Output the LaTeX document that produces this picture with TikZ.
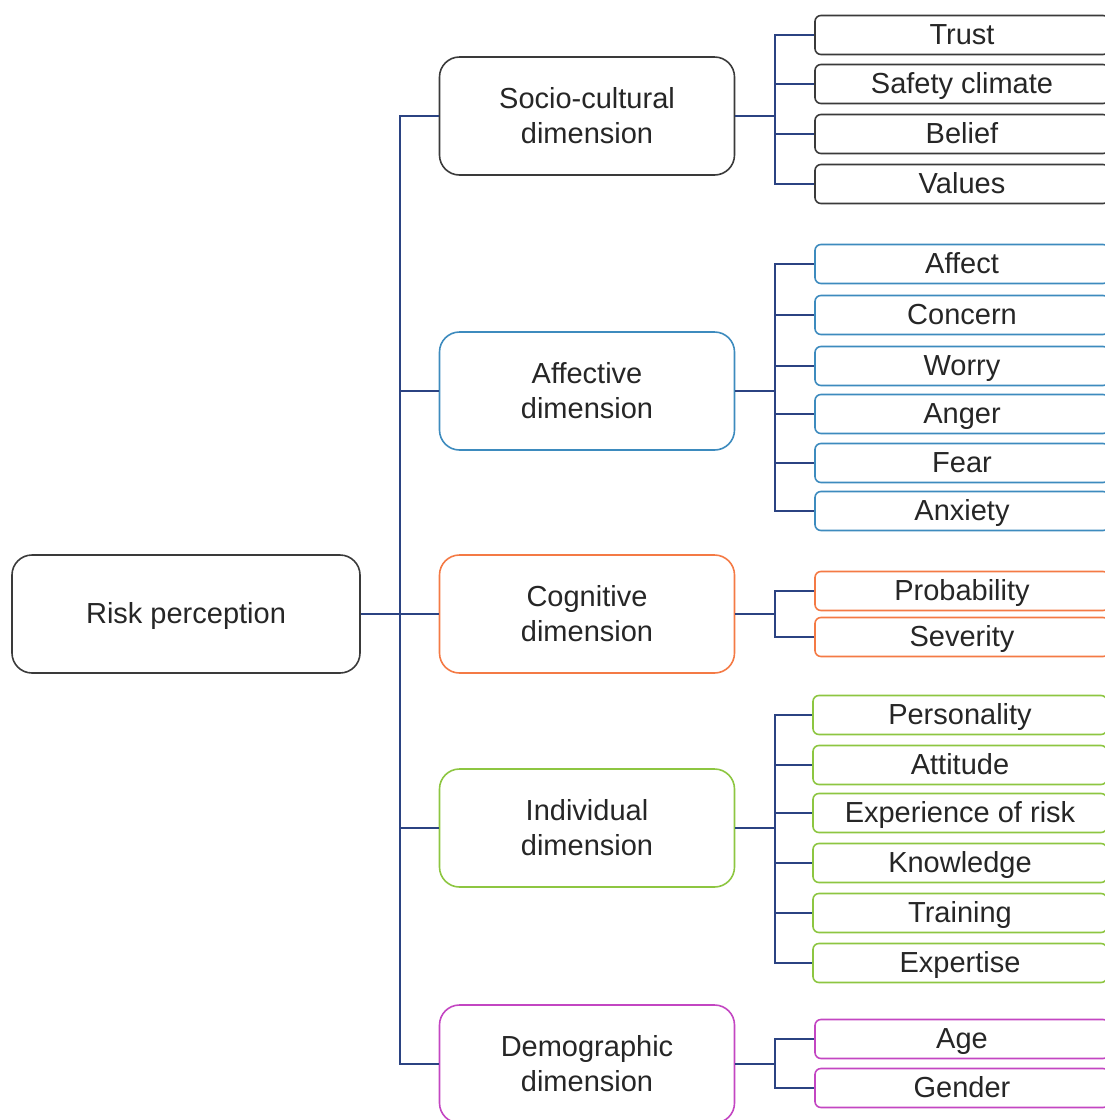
\documentclass[tikz,border=0pt]{standalone}
\usepackage{fontspec}
\setmainfont{Liberation Sans}
\usepackage{tikz}
\definecolor{linkblue}{HTML}{2B4382}
\definecolor{socgray}{HTML}{3A3A3A}
\definecolor{affblue}{HTML}{3D8BBE}
\definecolor{cogorange}{HTML}{F47A45}
\definecolor{indgreen}{HTML}{8DC641}
\definecolor{demmagenta}{HTML}{C346C2}
\tikzstyle{rootbox} = [draw=socgray, line width=1.6pt, rounded corners=20pt, minimum width=348pt, minimum height=118pt, text height=20pt, text depth=2pt, text=black!85, font=\fontsize{29}{35}\selectfont]
\tikzstyle{dimbox} = [draw, line width=1.6pt, rounded corners=20pt, minimum width=295pt, minimum height=118pt, align=center, text=black!85, font=\fontsize{29}{35}\selectfont]
\tikzstyle{leafbox} = [draw, line width=1.6pt, rounded corners=6pt, minimum width=294pt, minimum height=39pt, inner sep=0pt, text height=20pt, text depth=1pt, text=black!85, font=\fontsize{29}{33}\selectfont]
\tikzstyle{link} = [draw=linkblue, line width=2pt]

\begin{document}
\begin{tikzpicture}[x=1pt,y=-1pt]
\useasboundingbox (0,0) rectangle (1105,1120);
\clip (0,0) rectangle (1105,1120);
% root and dimensions
\node[rootbox] (rp) at (186,614) {Risk perception};
\node[dimbox, draw=socgray] (socio) at (587,116) {Socio-cultural\\dimension};
\node[dimbox, draw=affblue] (affect) at (587,391) {Affective\\dimension};
\node[dimbox, draw=cogorange] (cogn) at (587,614) {Cognitive\\dimension};
\node[dimbox, draw=indgreen] (indiv) at (587,828) {Individual\\dimension};
\node[dimbox, draw=demmagenta] (demo) at (587,1064) {Demographic\\dimension};
% socio-cultural leaves
\node[leafbox, draw=socgray] (trust) at (962,35) {Trust};
\node[leafbox, draw=socgray] (safety) at (962,84) {Safety climate};
\node[leafbox, draw=socgray] (belief) at (962,134) {Belief};
\node[leafbox, draw=socgray] (values) at (962,184) {Values};
% affective leaves
\node[leafbox, draw=affblue] (affectl) at (962,264) {Affect};
\node[leafbox, draw=affblue] (concern) at (962,315) {Concern};
\node[leafbox, draw=affblue] (worry) at (962,366) {Worry};
\node[leafbox, draw=affblue] (anger) at (962,414) {Anger};
\node[leafbox, draw=affblue] (fear) at (962,463) {Fear};
\node[leafbox, draw=affblue] (anxiety) at (962,511) {Anxiety};
% cognitive leaves
\node[leafbox, draw=cogorange] (prob) at (962,591) {Probability};
\node[leafbox, draw=cogorange] (sever) at (962,637) {Severity};
% individual leaves
\node[leafbox, draw=indgreen] (person) at (960,715) {Personality};
\node[leafbox, draw=indgreen] (attit) at (960,765) {Attitude};
\node[leafbox, draw=indgreen] (exper) at (960,813) {Experience of risk};
\node[leafbox, draw=indgreen] (knowl) at (960,863) {Knowledge};
\node[leafbox, draw=indgreen] (train) at (960,913) {Training};
\node[leafbox, draw=indgreen] (expert) at (960,963) {Expertise};
% demographic leaves
\node[leafbox, draw=demmagenta] (age) at (962,1039) {Age};
\node[leafbox, draw=demmagenta] (gender) at (962,1088) {Gender};
% junctions
\coordinate (tj) at (400,614);
\coordinate (sj) at (775,116);
\coordinate (aj) at (775,391);
\coordinate (cj) at (775,614);
\coordinate (ij) at (775,828);
\coordinate (dj) at (775,1064);
% trunk
\draw[link] (rp) -- (cogn);
\draw[link] (tj) |- (socio);
\draw[link] (tj) |- (affect);
\draw[link] (tj) |- (indiv);
\draw[link] (tj) |- (demo);
% branches
\draw[link] (socio) -- (sj);
\draw[link] (sj) |- (trust);
\draw[link] (sj) |- (safety);
\draw[link] (sj) |- (belief);
\draw[link] (sj) |- (values);
\draw[link] (affect) -- (aj);
\draw[link] (aj) |- (affectl);
\draw[link] (aj) |- (concern);
\draw[link] (aj) |- (worry);
\draw[link] (aj) |- (anger);
\draw[link] (aj) |- (fear);
\draw[link] (aj) |- (anxiety);
\draw[link] (cogn) -- (cj);
\draw[link] (cj) |- (prob);
\draw[link] (cj) |- (sever);
\draw[link] (indiv) -- (ij);
\draw[link] (ij) |- (person);
\draw[link] (ij) |- (attit);
\draw[link] (ij) |- (exper);
\draw[link] (ij) |- (knowl);
\draw[link] (ij) |- (train);
\draw[link] (ij) |- (expert);
\draw[link] (demo) -- (dj);
\draw[link] (dj) |- (age);
\draw[link] (dj) |- (gender);
\end{tikzpicture}
\end{document}
